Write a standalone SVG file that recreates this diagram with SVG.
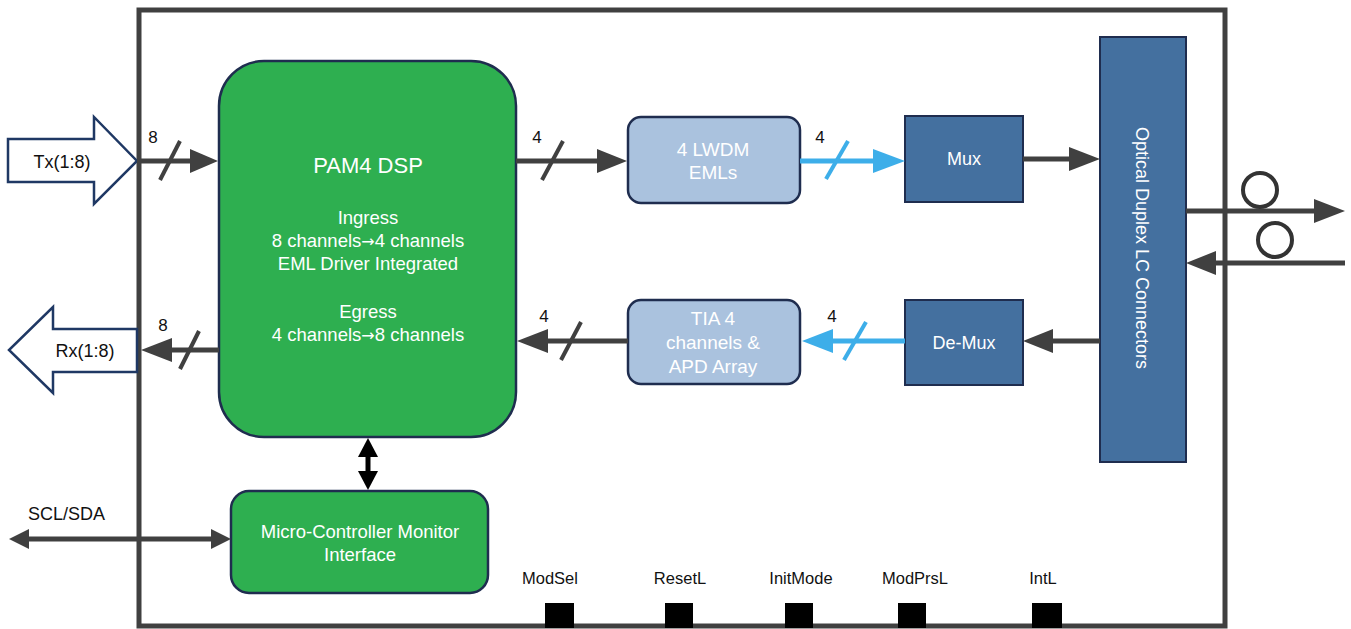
<svg xmlns="http://www.w3.org/2000/svg" width="1351" height="629" viewBox="0 0 1351 629">
<style>
text{font-family:"Liberation Sans",Arial,sans-serif}
.w{fill:#ffffff;text-anchor:middle}
.k{fill:#111111}
.c{fill:#111111;text-anchor:middle}
.ar{font-family:"DejaVu Sans",sans-serif;font-size:16px}
.g{fill:#2eaf50;stroke:#1f2d4f;stroke-width:2.5}
.lb{fill:#aac2de;stroke:#1f2d4f;stroke-width:2.5}
.db{fill:#44709f;stroke:#1f2d4f;stroke-width:2}
.ln{stroke:#404040;stroke-width:5;fill:none}
.bl{stroke:#3daee9;stroke-width:5;fill:none}
.sl{stroke:#404040;stroke-width:4}
.sb{stroke:#3daee9;stroke-width:4}
.ah{fill:#404040}
.ab{fill:#3daee9}
.blk{fill:#000}
</style>
<rect width="1351" height="629" fill="#ffffff"/>
<g id="module">
<rect x="139" y="10" width="1086" height="616" fill="none" stroke="#404040" stroke-width="5"/>
</g>
<g id="tx">
<polygon points="8,139 94,139 94,117 137,161 94,204 94,182 8,182" fill="#ffffff" stroke="#1f3864" stroke-width="2.5"/>
<text x="62" y="168" class="c" font-size="18">Tx(1:8)</text>
</g>
<g id="rx">
<polygon points="137,329 53,329 53,307 9,350 53,393 53,372 137,372" fill="#ffffff" stroke="#1f3864" stroke-width="2.5"/>
<text x="85" y="357" class="c" font-size="18">Rx(1:8)</text>
</g>
<g id="dsp">
<rect x="219" y="61" width="297" height="376" rx="45" class="g"/>
<text x="368" y="173" class="w" font-size="22">PAM4 DSP</text>
<text x="368" y="224" class="w" font-size="18.5">Ingress</text>
<text x="368" y="247" class="w" font-size="18.5">8 channels<tspan class="ar">→</tspan>4 channels</text>
<text x="368" y="270" class="w" font-size="18.5">EML Driver Integrated</text>
<text x="368" y="318" class="w" font-size="18.5">Egress</text>
<text x="368" y="341" class="w" font-size="18.5">4 channels<tspan class="ar">→</tspan>8 channels</text>
</g>
<g id="lwdm">
<rect x="628" y="117" width="172" height="86" rx="13" class="lb"/>
<text x="713" y="156" class="w" font-size="19">4 LWDM</text>
<text x="713" y="179" class="w" font-size="19">EMLs</text>
</g>
<g id="tia">
<rect x="628" y="300" width="172" height="84" rx="13" class="lb"/>
<text x="713" y="325" class="w" font-size="19">TIA 4</text>
<text x="713" y="349" class="w" font-size="19">channels &amp;</text>
<text x="713" y="373" class="w" font-size="19">APD Array</text>
</g>
<g id="mux">
<rect x="905" y="116" width="118" height="86" class="db"/>
<text x="964" y="165" class="w" font-size="18">Mux</text>
</g>
<g id="demux">
<rect x="905" y="300" width="118" height="85" class="db"/>
<text x="964" y="349" class="w" font-size="18">De-Mux</text>
</g>
<g id="optical">
<rect x="1100" y="37" width="86" height="425" class="db"/>
<text x="0" y="0" class="w" font-size="18" transform="translate(1136,248) rotate(90)">Optical Duplex LC Connectors</text>
</g>
<g id="mcu">
<rect x="231" y="491" width="257" height="102" rx="18" class="g"/>
<text x="360" y="538" class="w" font-size="18.5">Micro-Controller Monitor</text>
<text x="360" y="561" class="w" font-size="18.5">Interface</text>
</g>
<g id="pins">
<rect x="545" y="603" width="29" height="25" class="blk"/>
<rect x="665" y="603" width="28" height="25" class="blk"/>
<rect x="785" y="603" width="28" height="25" class="blk"/>
<rect x="898" y="603" width="28" height="25" class="blk"/>
<rect x="1032" y="603" width="30" height="25" class="blk"/>
<text x="550" y="584" class="c" font-size="16.5">ModSel</text>
<text x="680" y="584" class="c" font-size="16.5">ResetL</text>
<text x="801" y="584" class="c" font-size="16.5">InitMode</text>
<text x="915" y="584" class="c" font-size="16.5">ModPrsL</text>
<text x="1043" y="584" class="c" font-size="16.5">IntL</text>
</g>
<g id="connectors">
<line x1="137" y1="161" x2="192" y2="161" class="ln"/>
<polygon points="218,161 190,149 190,173" class="ah"/>
<line x1="160" y1="180" x2="180" y2="141" class="sl"/>
<text x="153" y="143" class="c" font-size="17">8</text>
<line x1="219" y1="350" x2="168" y2="350" class="ln"/>
<polygon points="141,350 172,338 172,362" class="ah"/>
<line x1="180" y1="369" x2="199" y2="331" class="sl"/>
<text x="163" y="331" class="c" font-size="17">8</text>
<line x1="516" y1="161" x2="600" y2="161" class="ln"/>
<polygon points="627,161 597,149 597,173" class="ah"/>
<line x1="542" y1="180" x2="563" y2="141" class="sl"/>
<text x="537" y="143" class="c" font-size="17">4</text>
<line x1="800" y1="161" x2="876" y2="161" class="bl"/>
<polygon points="905,161 873,149 873,173" class="ab"/>
<line x1="826" y1="179" x2="848" y2="141" class="sb"/>
<text x="820" y="143" class="c" font-size="17">4</text>
<line x1="1023" y1="159" x2="1072" y2="159" class="ln"/>
<polygon points="1100,159 1069,147 1069,171" class="ah"/>
<line x1="1100" y1="341" x2="1050" y2="341" class="ln"/>
<polygon points="1023,341 1053,329 1053,353" class="ah"/>
<line x1="905" y1="341" x2="830" y2="341" class="bl"/>
<polygon points="802,341 833,329 833,353" class="ab"/>
<line x1="844" y1="360" x2="866" y2="322" class="sb"/>
<text x="832" y="322" class="c" font-size="17">4</text>
<line x1="628" y1="341" x2="545" y2="341" class="ln"/>
<polygon points="517,341 548,329 548,353" class="ah"/>
<line x1="561" y1="360" x2="581" y2="322" class="sl"/>
<text x="544" y="322" class="c" font-size="17">4</text>
<line x1="1186" y1="211" x2="1318" y2="211" class="ln"/>
<polygon points="1345,211 1314,199 1314,223" class="ah"/>
<circle cx="1260" cy="190" r="17" fill="none" stroke="#333" stroke-width="4"/>
<line x1="1345" y1="263" x2="1212" y2="263" class="ln"/>
<polygon points="1186,263 1216,251 1216,275" class="ah"/>
<circle cx="1275" cy="240" r="17" fill="none" stroke="#333" stroke-width="4"/>
<line x1="368" y1="452" x2="368" y2="476" stroke="#000" stroke-width="5"/>
<polygon points="368,438 358,457 378,457" class="blk"/>
<polygon points="368,490 358,471 378,471" class="blk"/>
<line x1="24" y1="539" x2="216" y2="539" class="ln"/>
<polygon points="9,539 29,529 29,549" class="ah"/>
<polygon points="231,539 211,529 211,549" class="ah"/>
<text x="28" y="520" class="k" font-size="18">SCL/SDA</text>
</g>
</svg>
